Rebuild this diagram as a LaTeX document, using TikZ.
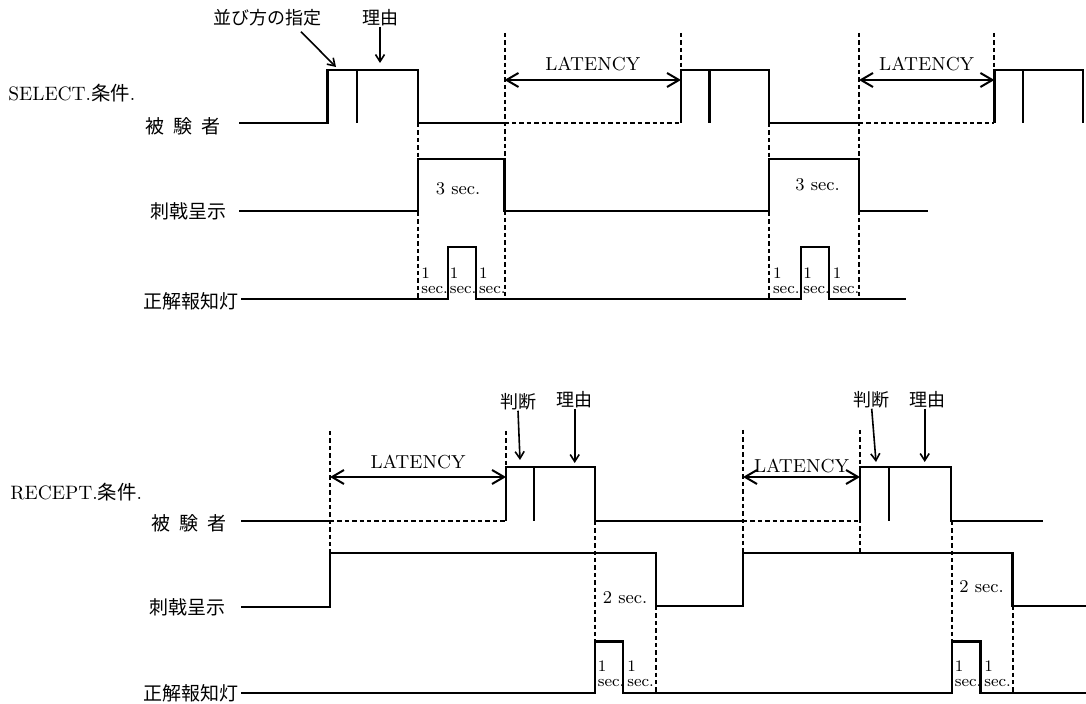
\documentclass[tikz,border=0pt]{standalone}
\usepackage{fontspec}
\newfontfamily\jpfont{Noto Sans CJK JP}
\usetikzlibrary{arrows.meta}

\begin{document}
\begin{tikzpicture}[
        x=0.5pt, y=-0.5pt,
        wave/.style={line width=1.2pt, line join=miter},
        guide/.style={line width=1pt, dash pattern=on 2.2pt off 1.5pt},
        dur/.style={
            {Straight Barb[length=6pt, width=7pt]}-{Straight Barb[length=6pt, width=7pt]},
            line width=1pt
        },
        pointer/.style={-{Straight Barb[length=3.5pt, width=4.5pt]}, line width=0.8pt},
        rowlabel/.style={font=\jpfont\fontsize{9.5}{11}\selectfont, inner sep=0pt, anchor=east},
        cond/.style={font=\fontsize{9.7}{11}\selectfont, inner sep=0pt, anchor=west},
        note/.style={font=\jpfont\fontsize{9}{10}\selectfont, inner sep=0pt},
        lat/.style={font=\fontsize{9.4}{10}\selectfont, inner sep=0pt},
        span/.style={font=\fontsize{9}{10}\selectfont, inner sep=0pt},
        secnote/.style={
            font=\fontsize{8}{7.5}\selectfont,
            inner sep=0pt,
            align=left,
            anchor=south west
        }
    ]

        \useasboundingbox (0,0) rectangle (1086,704);

        % SELECT condition: labels
        \node[cond] (selcond) at (8,93) {SELECT.{\jpfont 条件}.};
        \node[rowlabel] (selsubj) at (221,126) {被\hspace{4.5pt}験\hspace{4.5pt}者};
        \node[rowlabel] (selstim) at (227,211) {刺戟呈示};
        \node[rowlabel] (sellamp) at (239,301) {正解報知灯};

        % SELECT condition: subject
        \draw[wave] (239,123) -- (327.5,123) -- (327.5,70) -- (417.7,70) -- (417.7,123) -- (504.5,123);
        \draw[wave] (356.7,70) -- (356.7,123);
        \draw[guide] (504.5,123) -- (681,123);
        \draw[wave] (681,123) -- (681,70) -- (769,70) -- (769,123) -- (859,123);
        \draw[wave] (709.6,70) -- (709.6,123);
        \draw[guide] (859,123) -- (994.4,123);
        \draw[wave] (994.4,123) -- (994.4,70) -- (1083,70) -- (1083,123);
        \draw[wave] (1023,70) -- (1023,123);

        % SELECT condition: stimulus and lamp
        \draw[wave] (239,211) -- (417.7,211) -- (417.7,159) -- (504.5,159) -- (504.5,211)
            -- (769,211) -- (769,159) -- (859,159) -- (859,211) -- (928,211);
        \draw[wave] (241,299) -- (447.7,299) -- (447.7,247) -- (476,247) -- (476,299)
            -- (801,299) -- (801,247) -- (829,247) -- (829,299) -- (906,299);

        % SELECT condition: guides
        \draw[guide] (417.7,123) -- (417.7,299);
        \draw[guide] (504.5,33) -- (504.5,299);
        \draw[guide] (681,33) -- (681,70);
        \draw[guide] (769,123) -- (769,299);
        \draw[guide] (859,33) -- (859,299);
        \draw[guide] (994.4,33) -- (994.4,70);

        % SELECT condition: annotations
        \node[note] (order) at (267,18) {並び方の指定};
        \node[note] (reason) at (380,18) {理由};
        \coordinate (orderTip) at (336,67);
        \coordinate (reasonTip) at (380,63);
        \draw[pointer] ([xshift=17pt, yshift=-2.5pt]order.south) -- (orderTip);
        \draw[pointer] (reason.south) -- (reasonTip);

        \coordinate (selLatA1) at (504.5,80);
        \coordinate (selLatA2) at (681,80);
        \coordinate (selLatB1) at (859,80);
        \coordinate (selLatB2) at (994.4,80);
        \draw[dur] (selLatA1) -- node[lat, above=4pt] (selLatA) {LATENCY} (selLatA2);
        \draw[dur] (selLatB1) -- node[lat, above=4pt] (selLatB) {LATENCY} (selLatB2);

        \node[span] (selThreeA) at (458,189) {3 sec.};
        \node[span] (selThreeB) at (817.5,185) {3 sec.};
        \foreach \x/\n in {421/a, 449.5/b, 478.6/c, 772.6/d, 803/e, 832.5/f}
            \node[secnote] (selsec\n) at (\x,294) {1\\sec.};

        % RECEPT condition: labels
        \node[cond] (reccond) at (10,492) {RECEPT.{\jpfont 条件}.};
        \node[rowlabel] (recsubj) at (227,523) {被\hspace{4.5pt}験\hspace{4.5pt}者};
        \node[rowlabel] (recstim) at (226,607) {刺戟呈示};
        \node[rowlabel] (reclamp) at (239,693) {正解報知灯};

        % RECEPT condition: subject
        \draw[wave] (241,521) -- (330,521);
        \draw[guide] (330,521) -- (506,521);
        \draw[wave] (506,521) -- (506,467) -- (594.7,467) -- (594.7,521) -- (743,521);
        \draw[wave] (534,467) -- (534,521);
        \draw[guide] (743,521) -- (860,521);
        \draw[wave] (860,521) -- (860,467) -- (951,467) -- (951,521) -- (1043,521);
        \draw[wave] (889,467) -- (889,521);

        % RECEPT condition: stimulus and lamp
        \draw[wave] (241,607) -- (330,607) -- (330,553) -- (656,553) -- (656,606) -- (743,606)
            -- (743,553) -- (1012.5,553) -- (1012.5,606) -- (1086,606);
        \draw[wave] (241,693) -- (594.7,693) -- (594.7,641.7) -- (623,641.7) -- (623,693)
            -- (952,693) -- (952,641.7) -- (980.5,641.7) -- (980.5,693) -- (1086,693);

        % RECEPT condition: guides
        \draw[guide] (330,431) -- (330,553);
        \draw[guide] (506,431) -- (506,467);
        \draw[guide] (594.7,521) -- (594.7,641.7);
        \draw[guide] (656,606) -- (656,693);
        \draw[guide] (743,430) -- (743,553);
        \draw[guide] (860,430) -- (860,553);
        \draw[guide] (951.5,521) -- (951.5,641.7);
        \draw[guide] (1012.5,606) -- (1012.5,693);

        % RECEPT condition: annotations
        \node[note] (judgeA) at (518,402) {判断};
        \node[note] (reasonA) at (574.7,400) {理由};
        \node[note] (judgeB) at (871.7,400) {判断};
        \node[note] (reasonB) at (927,400) {理由};
        \coordinate (judgeATip) at (520,460);
        \coordinate (reasonATip) at (574.7,463);
        \coordinate (judgeBTip) at (876,462);
        \coordinate (reasonBTip) at (924.7,462);
        \draw[pointer] (judgeA.south) -- (judgeATip);
        \draw[pointer] (reasonA.south) -- (reasonATip);
        \draw[pointer] (judgeB.south) -- (judgeBTip);
        \draw[pointer] (reasonB.south -| reasonBTip) -- (reasonBTip);

        \coordinate (recLatA1) at (330,477);
        \coordinate (recLatA2) at (506,477);
        \coordinate (recLatB1) at (743,477);
        \coordinate (recLatB2) at (860,477);
        \draw[dur] (recLatA1) -- node[lat, above=3.5pt] (recLatA) {LATENCY} (recLatA2);
        \draw[dur] (recLatB1) -- node[lat, above=1.5pt] (recLatB) {LATENCY} (recLatB2);

        \node[span] (recTwoA) at (625,598) {2 sec.};
        \node[span] (recTwoB) at (981.5,587) {2 sec.};
        \foreach \x/\n in {597.5/a, 627/b, 954.5/c, 984/d}
            \node[secnote] (recsec\n) at (\x,687) {1\\sec.};

    \end{tikzpicture}
\end{document}
